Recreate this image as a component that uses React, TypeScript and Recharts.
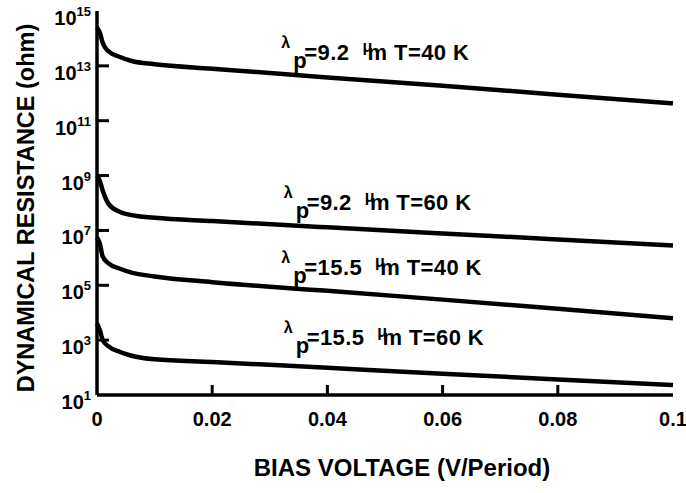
import React from 'react';
import { LineChart, Line, XAxis, YAxis, ReferenceDot, Label } from 'recharts';

// Bias voltage (V/Period)
const biasVoltage = [0, 0.0005, 0.001, 0.002, 0.004, 0.006, 0.01, 0.02, 0.04, 0.06, 0.08, 0.1];
// Dynamical resistance (ohm) for each curve
const r92at40K = [2.5e14, 1.6e14, 6.8e13, 3.4e13, 2.1e13, 1.5e13, 1.15e13, 7.9e12, 3.8e12, 1.9e12, 8.9e11, 4.3e11];
const r92at60K = [1.0e9, 6.3e8, 2.8e8, 9.3e7, 4.7e7, 3.6e7, 2.9e7, 2.2e7, 1.3e7, 7.8e6, 4.7e6, 2.8e6];
const r155at40K = [5.6e6, 3.2e6, 1.1e6, 6.3e5, 4.0e5, 2.9e5, 2.1e5, 1.3e5, 6.3e4, 3.0e4, 1.4e4, 6.3e3];
const r155at60K = [4.0e3, 2.3e3, 1.0e3, 590, 370, 270, 200, 160, 98, 60, 37, 23];

const xTicks = [0, 0.02, 0.04, 0.06, 0.08, 0.1];
const xTickLabels = ['0', '0.02', '0.04', '0.06', '0.08', '0.1'];
const yTicks = [1e1, 1e3, 1e5, 1e7, 1e9, 1e11, 1e13, 1e15];
const yTickExponents = ['1', '3', '5', '7', '9', '11', '13', '15'];

// curve annotations: anchor (data coords) of the "=" sign baseline
const labelX = [0.036, 0.0364, 0.036, 0.0364];
const labelY = [1.6e13, 5.6e7, 2.4e5, 660];
const labelLambda = ['9.2', '9.2', '15.5', '15.5'];
const labelTemp = ['40', '60', '40', '60'];

const seriesKeys = ['a', 'b', 'c', 'd'];
const seriesValues = [r92at40K, r92at60K, r155at40K, r155at60K];

const data = biasVoltage.map((v, i) => {
  const row: any = { v };
  seriesKeys.forEach((k, s) => {
    row[k] = seriesValues[s][i];
  });
  return row;
});

const FONT = '"Liberation Sans", Arial, Helvetica, sans-serif';
const Y_TICK_MARGIN = 6;
const FRAME = { stroke: '#000', strokeWidth: 3.5 };

const YTick = (props: any) => {
  const { x, y, payload } = props;
  const i = yTicks.indexOf(payload.value);
  const inner = i > 0 && i < yTicks.length - 1;
  return (
    <g>
      {inner && <rect x={x + Y_TICK_MARGIN} y={y - 1.5} width={12} height={3} fill="#000" />}
      <text x={x} y={y + 14} textAnchor="end" fontFamily={FONT} fontWeight="bold" fontSize={20} fill="#000">
        10
        <tspan dy={-9} fontSize={13}>
          {yTickExponents[i]}
        </tspan>
      </text>
    </g>
  );
};

const XTick = (props: any) => {
  const { x, y, payload } = props;
  const i = xTicks.indexOf(payload.value);
  const inner = i > 0 && i < xTicks.length - 1;
  return (
    <g>
      {inner && <rect x={x - 1.5} y={y - 10} width={3} height={10} fill="#000" />}
      <text x={x} y={y + 31} textAnchor="middle" fontFamily={FONT} fontWeight="bold" fontSize={20} fill="#000">
        {xTickLabels[i]}
      </text>
    </g>
  );
};

const CurveLabel = (props: any) => {
  const { cx, cy, idx } = props;
  return (
    <g fontFamily={FONT} fontWeight="bold" fill="#000">
      <text x={cx - 23} y={cy - 12} fontSize={16}>
        λ
      </text>
      <text x={cx - 11} y={cy + 8} fontSize={22}>
        p
      </text>
      <text x={cx} y={cy} fontSize={22} letterSpacing={0.4}>
        {'=' + labelLambda[idx]}
        <tspan dx={13} dy={-8} fontSize={16}>
          μ
        </tspan>
        <tspan dx={-5} dy={8}>
          {'m T=' + labelTemp[idx] + ' K'}
        </tspan>
      </text>
    </g>
  );
};

const XTitle = (props: any) => {
  const { viewBox } = props;
  const { x, y, width } = viewBox;
  return (
    <text x={x + width / 2 + 17} y={y + 81} textAnchor="middle" fontFamily={FONT} fontWeight="bold" fontSize={24} fill="#000">
      BIAS VOLTAGE (V/Period)
    </text>
  );
};

const YTitle = (props: any) => {
  const { viewBox } = props;
  const { y, height } = viewBox;
  return (
    <text
      transform={`translate(34, ${y + height / 2 + 5}) rotate(-90)`}
      textAnchor="middle"
      fontFamily={FONT}
      fontWeight="bold"
      fontSize={23.5}
      fill="#000"
    >
      DYNAMICAL RESISTANCE (ohm)
    </text>
  );
};

export default function App() {
  return (
    <div style={{ position: 'absolute', left: 0, top: 0, background: '#fff' }}>
      <LineChart width={686} height={493} data={data} margin={{ top: 11, right: 13, left: 0, bottom: 0 }}>
        <XAxis
          dataKey="v"
          type="number"
          domain={[0, 0.1]}
          ticks={xTicks}
          axisLine={FRAME}
          tickLine={false}
          tickSize={0}
          tickMargin={0}
          height={98}
          tick={<XTick />}
          interval={0}
        >
          <Label content={<XTitle />} />
        </XAxis>
        <XAxis
          xAxisId="top"
          orientation="top"
          type="number"
          domain={[0, 0.1]}
          axisLine={FRAME}
          tick={false}
          tickLine={false}
          height={0}
        />
        <YAxis
          type="number"
          scale="log"
          domain={[10, 1e15]}
          ticks={yTicks}
          allowDataOverflow
          axisLine={FRAME}
          tickLine={false}
          tickSize={0}
          tickMargin={Y_TICK_MARGIN}
          width={97}
          tick={<YTick />}
          interval={0}
        >
          <Label content={<YTitle />} />
        </YAxis>
        <YAxis
          yAxisId="right"
          orientation="right"
          type="number"
          domain={[0, 1]}
          axisLine={FRAME}
          tick={false}
          tickLine={false}
          width={0}
        />
        {seriesKeys.map((k) => (
          <Line
            key={k}
            dataKey={k}
            type="monotone"
            stroke="#000"
            strokeWidth={4.5}
            dot={false}
            isAnimationActive={false}
          />
        ))}
        {labelX.map((lx, i) => (
          <ReferenceDot
            key={'lbl' + i}
            x={lx}
            y={labelY[i]}
            r={0}
            ifOverflow="visible"
            shape={(p: any) => <CurveLabel {...p} idx={i} />}
          />
        ))}
      </LineChart>
    </div>
  );
}
